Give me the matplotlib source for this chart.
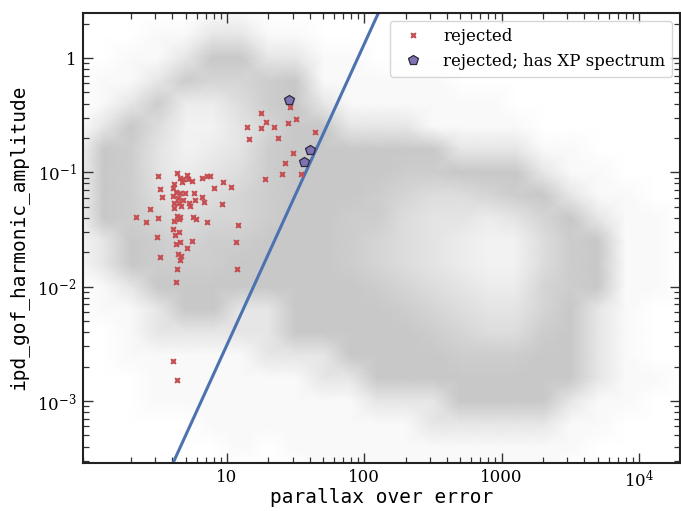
import matplotlib
matplotlib.use("Agg")
import matplotlib.pyplot as plt
import numpy as np
from matplotlib.colors import LinearSegmentedColormap

# rejected sources: parallax_over_error, ipd_gof_harmonic_amplitude
rej_poe = [3.13, 4.30, 4.55, 4.81, 5.09, 5.22, 5.53, 4.68, 6.54, 7.11, 7.52, 9.30,
           10.75, 8.04, 4.11, 4.06, 3.24, 3.38, 4.27, 4.55, 4.97, 5.75, 4.02, 4.42,
           4.76, 5.85, 6.57, 6.84, 4.13, 4.49, 4.11, 4.65, 5.38, 5.31, 9.20, 2.76,
           2.16, 2.56, 3.13, 4.35, 4.55, 4.11, 4.45, 5.68, 5.98, 7.11, 12.09, 4.02,
           4.45, 4.20, 3.09, 5.59, 11.63, 4.23, 4.55, 5.09, 3.24, 4.40, 4.65, 4.55,
           4.35, 11.89, 4.27, 4.06, 4.35,
           28.8, 17.8, 19.1, 13.92, 17.6, 22.1, 27.96, 31.8, 43.5, 14.53, 23.6,
           30.2, 26.6, 25.0, 34.8, 19.0]
rej_amp = [0.0923, 0.0987, 0.0898, 0.0869, 0.0948, 0.0869, 0.0845, 0.0828, 0.0892,
           0.0929, 0.0929, 0.0818, 0.0740, 0.0737, 0.0791, 0.0737, 0.0711, 0.0612,
           0.0677, 0.0655, 0.0655, 0.0663, 0.0621, 0.0593, 0.0573, 0.0573, 0.0604,
           0.0547, 0.0536, 0.0536, 0.0491, 0.0508, 0.0508, 0.0536, 0.0528, 0.0478,
           0.0409, 0.0366, 0.0401, 0.0418, 0.0409, 0.0378, 0.0393, 0.0409, 0.0390,
           0.0370, 0.0346, 0.0318, 0.0303, 0.0283, 0.0272, 0.0252, 0.0246, 0.0236,
           0.0244, 0.0218, 0.0182, 0.0193, 0.0185, 0.0171, 0.0142, 0.0142, 0.0110,
           0.00222, 0.00153,
           0.375, 0.328, 0.274, 0.248, 0.243, 0.249, 0.268, 0.294, 0.2266, 0.1945,
           0.1985, 0.1467, 0.120, 0.0967, 0.0962, 0.0874]

# rejected with XP spectrum
xp_poe = [28.4, 40.4, 36.2]
xp_amp = [0.429, 0.1568, 0.1231]

# cut line
cut_poe = [4.06, 127.0]
cut_amp = [2.9e-4, 2.5]

# background density, rows from top (amp=10**0.4) down
# 0 empty, 1 sparse, 2 patchy, 3 solid low counts ... 9 densest
density_rows = [
    "00000110000000000000000",
    "00011221100000000000000",
    "00112332211000000000000",
    "01124554311111000000000",
    "01248864321111110000000",
    "02369975332221111000000",
    "13479874333333222110000",
    "13478764333344333211000",
    "13467654333456654321100",
    "13456554334467787532110",
    "12345443334567899643110",
    "12344433334567899643110",
    "01233333333456788543110",
    "01123322333345677532100",
    "00122222333334566432100",
    "00111112223333444332100",
    "00011111122333333332110",
    "00011111111222333321100",
    "00000111111112222211000",
    "00000010111111111110000",
    "00000000011111111100000",
]
grid_logx = np.arange(-0.1, 4.31, 0.2)
grid_logy = np.arange(0.4, -3.61, -0.2)

plt.rcParams['font.family'] = 'DejaVu Serif'
plt.rcParams['mathtext.fontset'] = 'dejavuserif'

fig = plt.figure(figsize=(6.81, 5.11), dpi=100)
ax = fig.add_axes([0.1225, 0.0949, 0.8765, 0.8806])
ax.set_xscale('log')
ax.set_yscale('log')

dens = np.array([[int(c) for c in row] for row in density_rows], dtype=float)
grays = [1.0, 0.975, 0.90, 0.785, 0.805, 0.835, 0.865, 0.895, 0.925, 0.95]
cmap = LinearSegmentedColormap.from_list('bg', [(i / 9, (g, g, g)) for i, g in enumerate(grays)])
X, Y = np.meshgrid(10 ** grid_logx, 10 ** grid_logy)
ax.pcolormesh(X, Y, dens, shading='gouraud', cmap=cmap, vmin=0, vmax=9, zorder=0, rasterized=True)

ax.plot(cut_poe, cut_amp, color='#4c72b0', lw=2.2, zorder=2)
ax.plot(rej_poe, rej_amp, ls='none', marker='X', ms=4.8, mec='none', color='#c44e52',
        label='rejected', zorder=3)
ax.plot(xp_poe, xp_amp, ls='none', marker='p', ms=7, mfc='#8172b3', mec='#2a2a3a', mew=0.9,
        label='rejected; has XP spectrum', zorder=4)

ax.set_xlim(0.9, 2e4)
ax.set_ylim(2.9e-4, 2.5)
ax.set_xticks([10, 100, 1000, 1e4], ['10', '100', '1000', r'$10^4$'])
ax.set_yticks([1e-3, 1e-2, 1e-1, 1], [r'$10^{-3}$', r'$10^{-2}$', r'$10^{-1}$', '1'])

ax.tick_params(which='both', direction='in', top=True, right=True, color='#333333')
ax.tick_params(which='major', length=7, width=1.0, labelsize=12, pad=5)
ax.tick_params(which='minor', length=4.3, width=0.9)
for s in ax.spines.values():
    s.set_linewidth(1.5)
    s.set_color('#222222')

ax.set_xlabel('parallax over error', family='DejaVu Sans Mono', fontsize=14, labelpad=-2)
ax.set_ylabel('ipd_gof_harmonic_amplitude', family='DejaVu Sans Mono', fontsize=14, labelpad=6)

ax.legend(loc='upper right', fontsize=12)

fig.savefig('out.png', dpi=100)
